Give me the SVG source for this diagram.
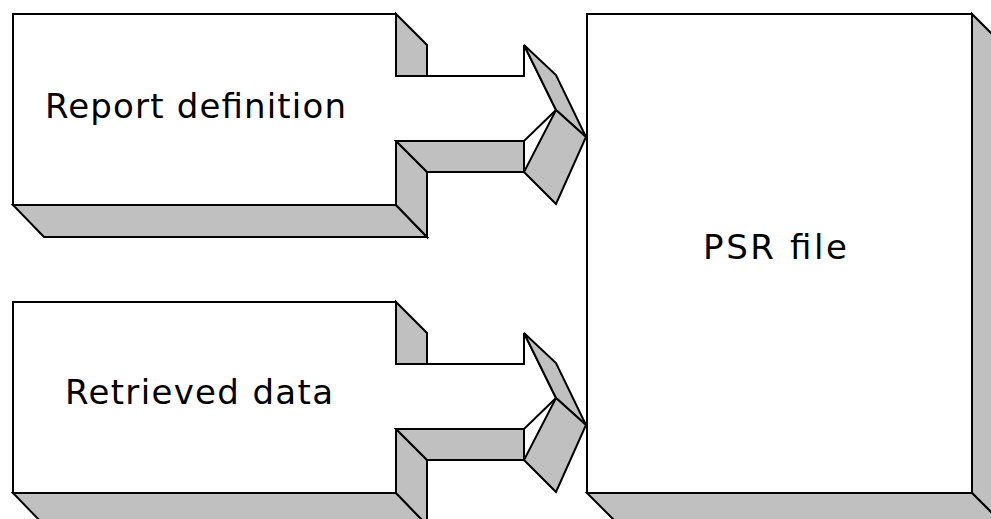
<svg xmlns="http://www.w3.org/2000/svg" width="991" height="519" viewBox="0 0 991 519">
<style>
.f{fill:#fff;stroke:#000;stroke-width:2;stroke-linejoin:miter}
.g{fill:#c0c0c0;stroke:#000;stroke-width:2;stroke-linejoin:miter}
.l{fill:none;stroke:#000;stroke-width:2}
.t{font-family:"DejaVu Sans","Liberation Sans",Arial,sans-serif;font-size:34px;fill:#000}
</style>
<rect width="991" height="519" fill="#fff"/>
<defs>
<g id="src">
<rect class="f" x="13" y="14" width="383" height="191"/>
<polygon class="g" points="13,205 396,205 427,237 44,237"/>
<polygon class="g" points="396,14 427,45 427,76 396,76"/>
<polygon class="g" points="396,141 427,172 427,237 396,205"/>
<polygon class="f" points="396,76 524,76 524,45 556,110 524,141 396,141"/>
<polygon class="g" points="396,141 524,141 524,172 427,172"/>
<polygon class="g" points="524,45 556,75 586,137 556,110"/>
<polygon class="g" points="556,110 586,137 556,204 524,172"/>
<line class="l" x1="524" y1="141" x2="524" y2="172"/>
<line x1="396" y1="77" x2="396" y2="140" stroke="#fff" stroke-width="2"/>
</g>
</defs>
<g id="psr">
<polygon class="g" points="972,14 1003,45 1003,524 972,493"/>
<polygon class="g" points="587,493 972,493 1003,524 618,524"/>
<rect class="f" x="587" y="14" width="385" height="479"/>
<text class="t" x="703" y="259" textLength="144" lengthAdjust="spacing">PSR file</text>
</g>
<g id="connectors">
</g>
<g id="report">
<use href="#src"/>
<text class="t" x="45" y="118" textLength="301" lengthAdjust="spacing">Report definition</text>
</g>
<g id="retrieved">
<use href="#src" y="288"/>
<text class="t" x="65" y="404" textLength="268" lengthAdjust="spacing">Retrieved data</text>
</g>
</svg>
